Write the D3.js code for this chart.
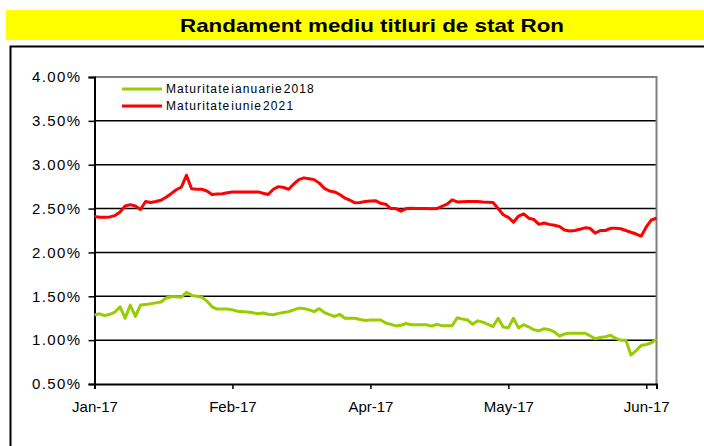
<!DOCTYPE html>
<html><head><meta charset="utf-8">
<script src="https://cdn.jsdelivr.net/npm/d3@7"></script>
<style>
html,body{margin:0;padding:0;background:#fff;}
svg{display:block;font-family:"Liberation Sans",Arial,sans-serif;}
</style></head>
<body>
<svg id="c" width="704" height="446"></svg>
<script>
const title = "Randament mediu titluri de stat Ron";
const seriesNames = ["Maturitate ianuarie 2018", "Maturitate iunie 2021"];
const seriesColors = ["#99CC00", "#FF0000"];
const tickLabels = ["Jan-17", "Feb-17", "Apr-17", "May-17", "Jun-17"];
const tickIndex = [0, 27, 54, 81, 108];
const yTicks = [0.5, 1.0, 1.5, 2.0, 2.5, 3.0, 3.5, 4.0];

const ian2018 = [
 1.286,1.30,1.28,1.295,1.32,1.38,1.25,1.40,1.27,1.40,
 1.405,1.415,1.425,1.435,1.48,1.495,1.495,1.49,1.545,1.51,
 1.50,1.49,1.445,1.38,1.355,1.355,1.355,1.345,1.33,1.325,
 1.32,1.312,1.30,1.31,1.295,1.29,1.305,1.315,1.325,1.345,
 1.365,1.36,1.345,1.325,1.36,1.315,1.29,1.27,1.295,1.25,
 1.25,1.25,1.235,1.225,1.23,1.23,1.23,1.195,1.18,1.162,
 1.17,1.19,1.175,1.175,1.175,1.175,1.16,1.18,1.165,1.165,
 1.165,1.255,1.24,1.23,1.18,1.22,1.205,1.18,1.155,1.25,
 1.15,1.14,1.25,1.14,1.175,1.15,1.12,1.105,1.13,1.12,
 1.095,1.045,1.07,1.08,1.08,1.08,1.08,1.05,1.015,1.03,
 1.04,1.055,1.02,1.00,1.00,0.83,0.88,0.94,0.95,0.97,1.01
];
const iun2021 = [
 2.41,2.40,2.40,2.405,2.42,2.46,2.53,2.545,2.53,2.49,
 2.58,2.57,2.58,2.595,2.63,2.67,2.715,2.745,2.88,2.725,
 2.72,2.72,2.70,2.66,2.665,2.67,2.68,2.69,2.69,2.69,
 2.69,2.69,2.69,2.675,2.66,2.72,2.75,2.74,2.72,2.78,
 2.83,2.85,2.84,2.83,2.79,2.73,2.70,2.69,2.66,2.62,
 2.595,2.565,2.57,2.58,2.585,2.59,2.56,2.55,2.50,2.50,
 2.47,2.50,2.505,2.50,2.50,2.50,2.497,2.50,2.525,2.55,
 2.60,2.575,2.578,2.58,2.58,2.58,2.575,2.572,2.57,2.50,
 2.43,2.40,2.345,2.415,2.44,2.39,2.375,2.32,2.335,2.32,
 2.31,2.295,2.255,2.245,2.25,2.265,2.28,2.275,2.22,2.25,
 2.25,2.275,2.275,2.27,2.25,2.23,2.21,2.185,2.29,2.37,2.39
];
const series = [ian2018, iun2021];

const svg = d3.select("#c");
const pLeft = 94.5, pRight = 656.5, pTop = 77, pBottom = 384;

// title band
svg.append("rect").attr("x",6).attr("y",10).attr("width",698).attr("height",30).attr("fill","#FFFF00");
svg.append("text").attr("x",180).attr("y",32)
  .attr("font-weight","bold").attr("font-size",19).attr("fill","#000")
  .attr("textLength",384).attr("lengthAdjust","spacingAndGlyphs").text(title);

// outer frame
svg.append("rect").attr("x",10.5).attr("y",46.5).attr("width",800).attr("height",500)
  .attr("fill","none").attr("stroke","#000").attr("stroke-width",2);

const x = d3.scaleLinear().domain([0, ian2018.length-1]).range([pLeft, pRight]);
const y = d3.scaleLinear().domain([0.5, 4.0]).range([pBottom, pTop]);

// gridlines
svg.append("g").selectAll("line").data(yTicks.slice(1, -1)).join("line")
  .attr("x1",pLeft).attr("x2",pRight).attr("y1",d=>y(d)).attr("y2",d=>y(d))
  .attr("stroke","#000").attr("stroke-width",1.5);

// plot border (top & right gray)
svg.append("path").attr("d",`M${pLeft},${pTop}H${pRight}V${pBottom}`)
  .attr("fill","none").attr("stroke","#808080").attr("stroke-width",2);

// y axis
const yAxis = svg.append("g").attr("transform",`translate(${pLeft},0)`)
  .call(d3.axisLeft(y).tickValues(yTicks).tickSize(6).tickPadding(7).tickFormat(d=>d.toFixed(2)+"%"));
yAxis.select(".domain").attr("stroke","#000").attr("stroke-width",2);
yAxis.selectAll(".tick line").attr("stroke","#000").attr("stroke-width",1.5);
yAxis.selectAll("text").attr("font-size",15).attr("letter-spacing","1.4px").attr("fill","#000").attr("font-family","Liberation Sans, Arial, sans-serif");

// x axis
const xAxis = svg.append("g").attr("transform",`translate(0,${pBottom})`)
  .call(d3.axisBottom(x).tickValues(tickIndex).tickSize(5).tickPadding(12).tickFormat((d,i)=>tickLabels[i]));
xAxis.select(".domain").attr("stroke","#000").attr("stroke-width",2);
xAxis.selectAll(".tick line").attr("stroke","#000").attr("stroke-width",1.5);
xAxis.selectAll("text").attr("font-size",15).attr("fill","#000").attr("font-family","Liberation Sans, Arial, sans-serif");

// lines
const line = d3.line().x((d,i)=>x(i)).y(d=>y(d));
series.forEach((s,k)=>{
  svg.append("path").datum(s).attr("d",line).attr("fill","none")
    .attr("stroke",seriesColors[k]).attr("stroke-width",3).attr("stroke-linejoin","round");
});

// legend
const legY = [89, 106];
seriesNames.forEach((n,k)=>{
  svg.append("line").attr("x1",122).attr("x2",162).attr("y1",legY[k]).attr("y2",legY[k])
    .attr("stroke",seriesColors[k]).attr("stroke-width",3);
  svg.append("text").attr("x",166).attr("y",legY[k]+4).attr("font-size",12)
    .attr("letter-spacing","1.1px").attr("word-spacing","-3.5px").attr("fill","#000").text(n);
});
</script>
</body></html>
